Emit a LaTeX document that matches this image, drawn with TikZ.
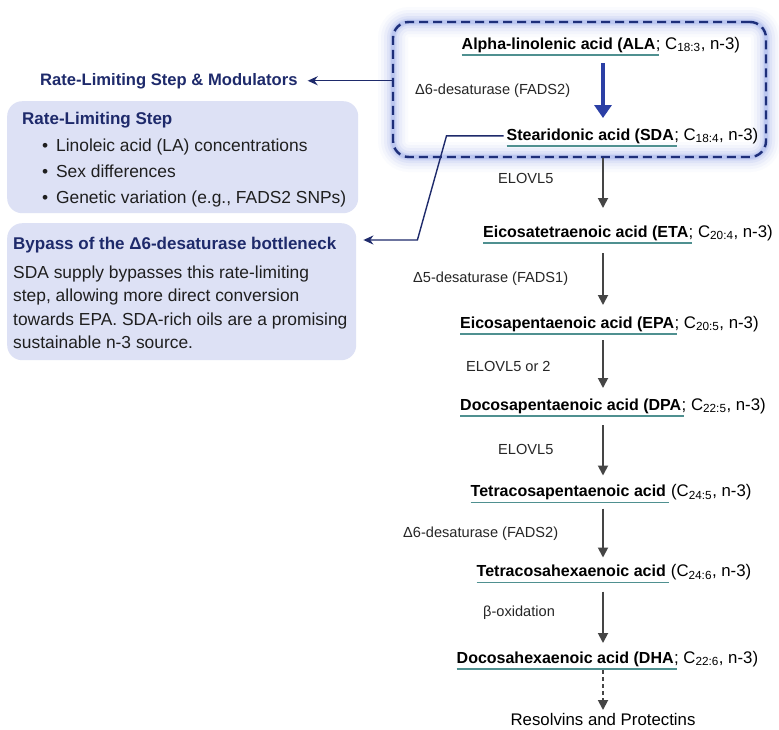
\documentclass[tikz,border=0pt]{standalone}
\usepackage{fontspec}
\setmainfont{Liberation Sans}
\usetikzlibrary{arrows.meta,calc}
\definecolor{navy}{HTML}{1E2A6B}
\definecolor{framenavy}{HTML}{1E2F7A}
\definecolor{glowblue}{HTML}{4A68DA}
\definecolor{bluearrow}{HTML}{2B3FA5}
\definecolor{boxfill}{HTML}{DDE1F5}
\definecolor{tealline}{HTML}{4F9090}
\definecolor{flowgray}{HTML}{454545}
\tikzset{
	acid/.style={anchor=base west,inner sep=0pt,font=\fontsize{16}{18}\selectfont\bfseries},
	formula/.style={anchor=base west,inner sep=0pt,font=\fontsize{16.8}{19}\selectfont},
	enzyme/.style={anchor=base west,inner sep=0pt,font=\fontsize{14.6}{17}\selectfont,text=black!85},
	uline/.style={draw=tealline,line width=1.8pt},
	flow/.style={draw=flowgray,line width=1.8pt,-{Triangle[width=10pt,length=10pt]}},
	bigflow/.style={draw=bluearrow,line width=4.5pt,-{Triangle[width=17pt,length=13pt]}},
	navyarrow/.style={draw=navy,line width=1.4pt,-{Stealth[width=9pt,length=10pt]}},
	frame/.style={draw=framenavy,line width=2.4pt,dash pattern=on 9pt off 5pt,rounded corners=16pt,minimum width=373pt,minimum height=135pt},
	infobox/.style={fill=boxfill,rounded corners=15pt,anchor=north west},
	headtext/.style={anchor=base west,inner sep=0pt,text=navy,font=\fontsize{16.6}{19}\selectfont\bfseries},
	boxtitle/.style={anchor=base west,inner sep=0pt,text=navy,font=\fontsize{17}{20}\selectfont\bfseries},
	boxtext/.style={anchor=base west,inner sep=0pt,text=black!88,font=\fontsize{17.4}{20}\selectfont},
}
\begin{document}
\begin{tikzpicture}[x=1pt,y=-1pt]
	\useasboundingbox (0,0) rectangle (779,729);
	\fill[white] (0,0) rectangle (779,729);
	\foreach \w/\o in {30/0.025,24/0.035,18/0.05,12/0.07,7/0.1,4/0.13}
		\draw[glowblue,opacity=\o,line width=\w pt,rounded corners=16pt] (393,22) rectangle (766,157);
	\node[frame] (frame) at (579.5,89.5) {};

	\node[acid] (ala) at (461.5,49) {Alpha-linolenic acid (ALA};
	\node[formula] (ala f) at (ala.base east) {; C\textsubscript{18:3}, n-3)};
	\node[acid] (sda) at (506.5,140) {Stearidonic acid (SDA};
	\node[formula] (sda f) at (sda.base east) {; C\textsubscript{18:4}, n-3)};
	\node[acid] (eta) at (483,237) {Eicosatetraenoic acid (ETA};
	\node[formula] (eta f) at (eta.base east) {; C\textsubscript{20:4}, n-3)};
	\node[acid] (epa) at (460,328) {Eicosapentaenoic acid (EPA};
	\node[formula] (epa f) at (epa.base east) {; C\textsubscript{20:5}, n-3)};
	\node[acid] (dpa) at (460,410) {Docosapentaenoic acid (DPA};
	\node[formula] (dpa f) at (dpa.base east) {; C\textsubscript{22:5}, n-3)};
	\node[acid] (tpa) at (470.5,496.5) {Tetracosapentaenoic acid};
	\node[formula] (tpa f) at (tpa.base east) {\hspace{0.28em}(C\textsubscript{24:5}, n-3)};
	\node[acid] (tha) at (476.5,576.5) {Tetracosahexaenoic acid};
	\node[formula] (tha f) at (tha.base east) {\hspace{0.28em}(C\textsubscript{24:6}, n-3)};
	\node[acid] (dha) at (456.5,663) {Docosahexaenoic acid (DHA};
	\node[formula] (dha f) at (dha.base east) {; C\textsubscript{22:6}, n-3)};
	\node[formula,anchor=base] (res) at (603,725) {Resolvins and Protectins};
	\foreach \n in {ala,sda,eta,epa,dpa,tpa,tha,dha}
		\draw[uline] ([yshift=-6pt]\n.base west) -- ([yshift=-6pt,xshift=3pt]\n.base east);

	\node[enzyme] (fads2 a) at (415,94) {Δ6-desaturase (FADS2)};
	\node[enzyme] (elovl5 a) at (498,183) {ELOVL5};
	\node[enzyme] (fads1) at (413,282) {Δ5-desaturase (FADS1)};
	\node[enzyme] (elovl2) at (466,371) {ELOVL5 or 2};
	\node[enzyme] (elovl5 b) at (498,454) {ELOVL5};
	\node[enzyme] (fads2 b) at (403,537) {Δ6-desaturase (FADS2)};
	\node[enzyme] (betaox) at (483,616) {β-oxidation};

	\coordinate (col) at (603,0);
	\draw[bigflow] ($(col |- ala.base)+(0,14)$) -- ($(col |- sda.base)+(0,-22)$);
	\draw[flow] ($(col |- sda.base)+(0,18)$) -- ($(col |- eta.base)+(0,-29)$);
	\draw[flow] ($(col |- eta.base)+(0,16)$) -- ($(col |- epa.base)+(0,-23)$);
	\draw[flow] ($(col |- epa.base)+(0,12)$) -- ($(col |- dpa.base)+(0,-22)$);
	\draw[flow] ($(col |- dpa.base)+(0,15)$) -- ($(col |- tpa.base)+(0,-21)$);
	\draw[flow] ($(col |- tpa.base)+(0,12)$) -- ($(col |- tha.base)+(0,-19)$);
	\draw[flow] ($(col |- tha.base)+(0,15)$) -- ($(col |- dha.base)+(0,-20)$);
	\draw[flow,dash pattern=on 4pt off 3pt] ($(col |- dha.base)+(0,7)$) -- ($(col |- res.base)+(0,-15)$);

	\node[headtext] (mod) at (40,85) {Rate-Limiting Step \& Modulators};
	\draw[navyarrow] (frame.west |- mod) -- ([xshift=10pt]mod.east);

	\node[infobox,minimum width=351pt,minimum height=112pt] (rls) at (7,101) {};
	\node[boxtitle] (rls title) at (22,124.5) {Rate-Limiting Step};
	\foreach \t [count=\i] in {Linoleic acid (LA) concentrations,Sex differences,{Genetic variation (e.g., FADS2 SNPs)}}
		\node[boxtext] (rls item \i) at (42,{125.7+26*\i}) {\textbullet\hspace{0.45em}\t};

	\node[infobox,minimum width=349pt,minimum height=137pt] (bypass) at (7,223) {};
	\node[boxtitle] (bypass title) at (13,249) {Bypass of the Δ6-desaturase bottleneck};
	\foreach \t [count=\i] in {SDA supply bypasses this rate-limiting,{step, allowing more direct conversion},towards EPA. SDA-rich oils are a promising,sustainable n-3 source.}
		\node[boxtext] (bypass line \i) at (13,{254.5+23.5*\i}) {\t};
	\draw[navyarrow] ([xshift=-3pt]sda.west) -- ++(-57,0) -- ($(bypass.north east)+(61,17)$) -- ($(bypass.north east)+(7,17)$);
\end{tikzpicture}
\end{document}
